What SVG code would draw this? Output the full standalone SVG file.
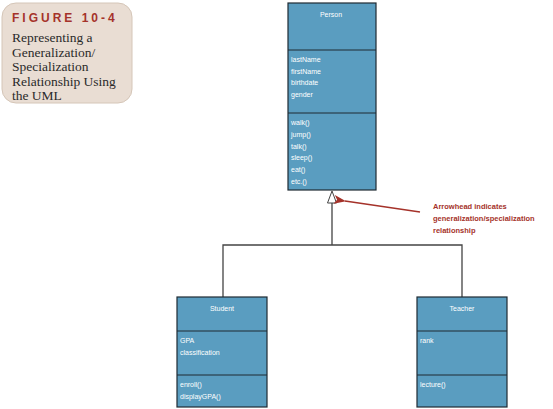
<svg xmlns="http://www.w3.org/2000/svg" width="553" height="409" viewBox="0 0 553 409">
<style>
.cls{fill:#5a9dc0;stroke:#1e2a33;stroke-width:1.2}
.div{stroke:#1e2a33;stroke-width:1}
.t{font-family:"Liberation Sans",Arial,sans-serif;font-size:7px;fill:#ffffff}
.c{text-anchor:middle}
.conn{fill:none;stroke:#444;stroke-width:1.3}
.note{font-family:"Liberation Sans",Arial,sans-serif;font-size:7.5px;font-weight:bold;fill:#a5322a}
.cap{font-family:"Liberation Serif","Times New Roman",serif;font-size:13.5px;fill:#2a2a2a}
</style>
<defs>
<marker id="red" viewBox="0 0 12 9" refX="1" refY="4.5" markerWidth="12" markerHeight="9" markerUnits="userSpaceOnUse" orient="auto-start-reverse">
<path d="M0,4.5 L12,0 L9,4.5 L12,9 Z" fill="#a5322a"/>
</marker>
</defs>
<g id="caption">
<rect x="2" y="3" width="130" height="100" rx="14" fill="#e9ddd3" stroke="#d5c6b8" stroke-width="1"/>
<text x="12" y="22" font-family="'Liberation Sans',Arial,sans-serif" font-size="12" font-weight="bold" fill="#a5322a" letter-spacing="3">FIGURE 10-4</text>
<text class="cap" x="12" y="42">Representing a</text>
<text class="cap" x="12" y="57">Generalization/</text>
<text class="cap" x="12" y="71">Specialization</text>
<text class="cap" x="12" y="86">Relationship Using</text>
<text class="cap" x="12" y="100">the UML</text>
</g>
<g id="connectors">
<path class="conn" d="M332,203 V245 M223,297 V245 H462 V297"/>
<path d="M332,191 L327.5,203 H336.5 Z" fill="#fff" stroke="#444" stroke-width="1"/>
<path d="M420,212 L345,201" stroke="#a5322a" stroke-width="1.5" fill="none" marker-end="url(#red)"/>
</g>
<g id="note">
<text class="note" x="433" y="209">Arrowhead indicates</text>
<text class="note" x="433" y="221">generalization/specialization</text>
<text class="note" x="433" y="233">relationship</text>
</g>
<g id="person">
<rect class="cls" x="288" y="3" width="88" height="187"/>
<line class="div" x1="288" y1="50" x2="376" y2="50"/>
<line class="div" x1="288" y1="113" x2="376" y2="113"/>
<text class="t c" x="331" y="17">Person</text>
<text class="t" x="291" y="62">lastName</text>
<text class="t" x="291" y="74">firstName</text>
<text class="t" x="291" y="85">birthdate</text>
<text class="t" x="291" y="97">gender</text>
<text class="t" x="291" y="125">walk()</text>
<text class="t" x="291" y="137">jump()</text>
<text class="t" x="291" y="149">talk()</text>
<text class="t" x="291" y="160">sleep()</text>
<text class="t" x="291" y="172">eat()</text>
<text class="t" x="291" y="184">etc.()</text>
</g>
<g id="student">
<rect class="cls" x="177" y="297" width="90" height="110"/>
<line class="div" x1="177" y1="331" x2="267" y2="331"/>
<line class="div" x1="177" y1="375" x2="267" y2="375"/>
<text class="t c" x="222" y="311">Student</text>
<text class="t" x="180" y="343">GPA</text>
<text class="t" x="180" y="355">classification</text>
<text class="t" x="180" y="387">enroll()</text>
<text class="t" x="180" y="399">displayGPA()</text>
</g>
<g id="teacher">
<rect class="cls" x="417" y="297" width="90" height="110"/>
<line class="div" x1="417" y1="331" x2="507" y2="331"/>
<line class="div" x1="417" y1="375" x2="507" y2="375"/>
<text class="t c" x="462" y="311">Teacher</text>
<text class="t" x="420" y="343">rank</text>
<text class="t" x="420" y="387">lecture()</text>
</g>
</svg>
